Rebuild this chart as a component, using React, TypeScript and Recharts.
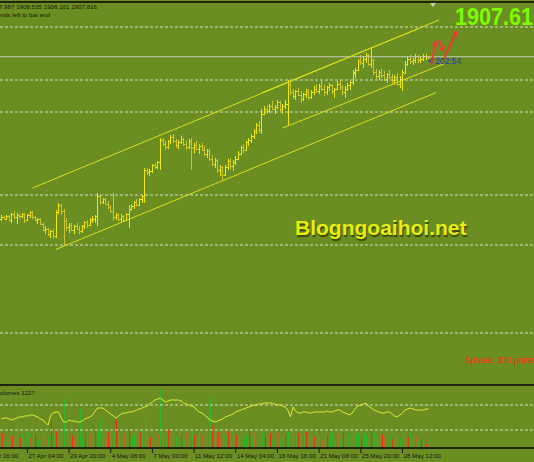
import { ComposedChart, Bar, Line, XAxis, YAxis, ReferenceLine } from 'recharts';

// XAUUSD H4, 23 Apr - 28 May
const opens = [
  1778, 1779, 1778, 1780, 1777, 1782, 1779, 1781, 1780, 1782,
  1777, 1781, 1783, 1779, 1777, 1778, 1774, 1769, 1770, 1766,
  1768, 1764, 1783, 1789, 1784, 1776, 1771, 1773, 1769, 1772,
  1770, 1768, 1772, 1775, 1773, 1777, 1778, 1780, 1796, 1791,
  1794, 1790, 1787, 1784, 1779, 1781, 1778, 1780, 1777, 1782,
  1786, 1788, 1791, 1789, 1794, 1796, 1817, 1815, 1816, 1821,
  1819, 1823, 1841, 1838, 1835, 1840, 1843, 1840, 1837, 1839,
  1842, 1838, 1835, 1840, 1835, 1837, 1834, 1836, 1833, 1830,
  1832, 1826, 1822, 1825, 1817, 1819, 1813, 1819, 1824, 1820,
  1823, 1826, 1830, 1835, 1833, 1839, 1841, 1844, 1848, 1853,
  1849, 1862, 1866, 1864, 1868, 1866, 1867, 1871, 1866, 1868,
  1870, 1886, 1879, 1876, 1880, 1877, 1874, 1878, 1880, 1875,
  1879, 1882, 1880, 1884, 1882, 1879, 1883, 1885, 1880, 1882,
  1886, 1883, 1879, 1882, 1885, 1887, 1895, 1897, 1904, 1903,
  1906, 1909, 1902, 1905, 1895, 1892, 1895, 1893, 1890, 1894,
  1891, 1889, 1891, 1886, 1890, 1895, 1902, 1906, 1904, 1905,
  1908, 1905, 1906, 1908, 1907.987,
];
const highs = [
  1781, 1780, 1781, 1781, 1783, 1784, 1783, 1782, 1783, 1783,
  1782, 1784, 1784, 1780, 1779, 1779, 1775, 1772, 1771, 1769,
  1770, 1785, 1791, 1790, 1786, 1779, 1775, 1775, 1773, 1775,
  1772, 1773, 1776, 1777, 1779, 1780, 1781, 1799, 1797, 1795,
  1795, 1792, 1789, 1799, 1783, 1783, 1782, 1781, 1783, 1789,
  1790, 1792, 1794, 1795, 1797, 1819, 1819, 1818, 1822, 1823,
  1824, 1843, 1843, 1840, 1841, 1845, 1846, 1842, 1841, 1844,
  1843, 1840, 1842, 1843, 1839, 1840, 1838, 1839, 1836, 1834,
  1834, 1829, 1827, 1826, 1821, 1820, 1821, 1826, 1827, 1825,
  1828, 1832, 1836, 1838, 1840, 1843, 1846, 1850, 1855, 1856,
  1866, 1868, 1869, 1870, 1872, 1869, 1873, 1872, 1870, 1873,
  1889, 1888, 1882, 1881, 1883, 1880, 1879, 1882, 1882, 1881,
  1884, 1886, 1886, 1888, 1885, 1884, 1887, 1886, 1883, 1888,
  1889, 1885, 1884, 1887, 1888, 1897, 1899, 1906, 1909, 1908,
  1911, 1910, 1915, 1906, 1898, 1897, 1898, 1896, 1895, 1897,
  1894, 1893, 1895, 1892, 1897, 1904, 1908, 1909, 1907, 1910,
  1909, 1908, 1910, 1910, 1908.535,
];
const lows = [
  1776, 1777, 1777, 1776, 1775, 1778, 1774, 1778, 1779, 1775,
  1776, 1779, 1778, 1776, 1774, 1773, 1768, 1766, 1764, 1763,
  1762, 1763, 1782, 1781, 1757, 1768, 1767, 1768, 1766, 1769,
  1766, 1767, 1770, 1771, 1772, 1775, 1775, 1772, 1789, 1790,
  1789, 1786, 1783, 1776, 1777, 1776, 1775, 1776, 1776, 1771,
  1784, 1786, 1788, 1788, 1791, 1791, 1813, 1812, 1815, 1818,
  1818, 1817, 1836, 1833, 1834, 1838, 1839, 1835, 1834, 1838,
  1836, 1833, 1834, 1817, 1831, 1833, 1830, 1832, 1828, 1827,
  1824, 1820, 1819, 1815, 1812, 1809, 1812, 1817, 1818, 1816,
  1821, 1825, 1829, 1831, 1832, 1836, 1839, 1842, 1846, 1847,
  1846, 1861, 1862, 1863, 1865, 1862, 1866, 1864, 1862, 1866,
  1853, 1877, 1874, 1873, 1876, 1871, 1872, 1875, 1873, 1874,
  1877, 1879, 1878, 1880, 1876, 1877, 1880, 1878, 1875, 1881,
  1881, 1877, 1875, 1880, 1881, 1885, 1891, 1896, 1901, 1899,
  1903, 1900, 1899, 1893, 1890, 1889, 1891, 1888, 1887, 1890,
  1886, 1885, 1884, 1883, 1880, 1894, 1900, 1902, 1901, 1903,
  1903, 1903, 1904, 1905, 1906.101,
];
const closes = [
  1779, 1778, 1780, 1777, 1782, 1779, 1781, 1780, 1782, 1777,
  1781, 1783, 1779, 1777, 1778, 1774, 1769, 1770, 1766, 1768,
  1764, 1783, 1789, 1784, 1776, 1771, 1773, 1769, 1772, 1770,
  1768, 1772, 1775, 1773, 1777, 1778, 1780, 1796, 1791, 1794,
  1790, 1787, 1784, 1779, 1781, 1778, 1780, 1777, 1782, 1786,
  1788, 1791, 1789, 1794, 1796, 1817, 1815, 1816, 1821, 1819,
  1823, 1841, 1838, 1835, 1840, 1843, 1840, 1837, 1839, 1842,
  1838, 1835, 1840, 1835, 1837, 1834, 1836, 1833, 1830, 1832,
  1826, 1822, 1825, 1817, 1819, 1813, 1819, 1824, 1820, 1823,
  1826, 1830, 1835, 1833, 1839, 1841, 1844, 1848, 1853, 1849,
  1862, 1866, 1864, 1868, 1866, 1867, 1871, 1866, 1868, 1870,
  1886, 1879, 1876, 1880, 1877, 1874, 1878, 1880, 1875, 1879,
  1882, 1880, 1884, 1882, 1879, 1883, 1885, 1880, 1882, 1886,
  1883, 1879, 1882, 1885, 1887, 1895, 1897, 1904, 1903, 1906,
  1909, 1902, 1905, 1895, 1892, 1895, 1893, 1890, 1894, 1891,
  1889, 1891, 1886, 1890, 1895, 1902, 1906, 1904, 1905, 1908,
  1905, 1906, 1908, 1908, 1907.616,
];
const volumes = [
  7500, 3500, 2500, 5000, 6000, 4500, 16500, 5500, 7000, 3500,
  8000, 5000, 15000, 6500, 4000, 5500, 7500, 4500, 6000, 14000,
  7000, 8500, 5500, 9000, 24500, 8000, 5000, 6500, 4000, 7500,
  19500, 5500, 8000, 4500, 7000, 6000, 8500, 9000, 14000, 6500,
  5000, 8000, 5500, 8500, 14000, 6000, 4500, 7500, 8500, 8000,
  5500, 7000, 4000, 8000, 9000, 17500, 7000, 5500, 8500, 5000,
  7500, 29000, 8000, 6000, 9000, 7000, 8500, 5500, 8000, 6500,
  4500, 8000, 6000, 8500, 7000, 5000, 8000, 6500, 8500, 5500,
  25500, 11500, 7000, 8000, 5000, 7500, 6000, 8500, 4500, 9000,
  6500, 5500, 8000, 5000, 7000, 8000, 6000, 7500, 4000, 6500,
  8500, 5500, 7000, 7500, 4500, 6000, 8000, 5000, 7000, 5500,
  8000, 10500, 8500, 6000, 7500, 5000, 6500, 8000, 4500, 7000,
  5500, 8000, 6000, 4000, 7500, 6500, 5000, 8000, 5500, 7000,
  4500, 8000, 6000, 7500, 5000, 8500, 9000, 7000, 5500, 8000,
  6500, 7500, 8500, 8000, 6000, 5000, 7000, 5500, 9000, 6500,
  4500, 7500, 6000, 5000, 8500, 7000, 5500, 7500, 4500, 5500,
  3500, 4500, 3000, 2000, 1227,
];
const volumeAvg = [
  14500, 15000, 15000, 14500, 14000, 14500, 15000, 15500, 15500, 16000,
  16000, 16500, 16500, 16000, 15500, 14500, 14000, 12500, 11500, 16500,
  17500, 18000, 18000, 15000, 13000, 13000, 14000, 13500, 13500, 13000,
  13000, 13500, 14500, 15000, 15500, 16500, 18500, 20000, 20000, 20000,
  19000, 18000, 17000, 16000, 15000, 16000, 17000, 17500, 17500, 18000,
  18000, 18500, 19000, 19500, 20000, 20500, 21000, 22000, 23000, 24000,
  24500, 25000, 24000, 23000, 23500, 24000, 24000, 24000, 24000, 23500,
  22500, 22000, 21500, 21000, 20500, 19000, 18000, 17500, 16500, 15500,
  14000, 13500, 13000, 13500, 14000, 14500, 15500, 16000, 16500, 17000,
  18000, 18500, 19000, 19500, 20000, 20500, 21000, 21500, 21500, 22000,
  22000, 22500, 22500, 22500, 22500, 22000, 21500, 21500, 21000, 20500,
  19000, 15500, 20500, 18500, 17500, 17500, 18000, 18000, 17500, 17500,
  18000, 18000, 18000, 18000, 18000, 18500, 18000, 18000, 18500, 19000,
  19000, 18000, 17500, 17000, 16500, 18000, 20000, 21000, 21500, 22000,
  22500, 21000, 20000, 19000, 18500, 18000, 17500, 17500, 18000, 18000,
  17000, 16000, 15500, 16500, 17500, 19000, 19500, 20000, 19500, 19000,
  19000, 19000, 19000, 19500, 19500,
];
// g = up volume, r = down volume, b = neutral
const volumeKinds = (
  'rgbgrggrgg' + 'gbgrgggbgr' + 'grgbgggrbg' + 'ggrgbgrggg' + 'brggrggbgr' +
  'ggbrgggrgg' + 'bgggrgbggr' + 'gbggrggbgg' + 'grgrbggrgg' + 'rgbggrgbgg' +
  'grgrggbggr' + 'ggbgrggrbg' + 'rggbgrgggb' + 'grggbgggrg' + 'gbrgggrbgg' +
  'rgbgggrggb' + 'grgrg'
).split('');

const tickBars = [0, 10, 26, 42, 58, 74, 90, 106, 122, 138, 154];
const tickLabels = [
  '23 Apr 16:00', '27 Apr 04:00', '29 Apr 20:00', '4 May 08:00', '7 May 00:00',
  '11 May 12:00', '14 May 04:00', '18 May 16:00', '21 May 08:00', '25 May 20:00', '28 May 12:00',
];

const levels = [1931.4, 1889, 1863.4, 1797, 1757, 1686.6];
const bid = 1907.616;

const trendLines = [
  { x1: 12, y1: 1802.6, x2: 168, y2: 1937 },
  { x1: 100, y1: 1878.8, x2: 160, y2: 1930 },
  { x1: 108, y1: 1850.6, x2: 170, y2: 1902 },
  { x1: 21, y1: 1753.5, x2: 167, y2: 1879 },
];
const arrows = [
  { x1: 165, y1: 1901, x2: 167, y2: 1921 },
  { x1: 168, y1: 1921, x2: 170, y2: 1911 },
  { x1: 170, y1: 1906, x2: 175, y2: 1929 },
];

const SLOTS = 205; // bars plus empty space on the right

const rows: any[] = [];
for (let i = 0; i < SLOTS; i++) {
  if (i < closes.length) {
    rows.push({
      i,
      range: [lows[i], highs[i]],
      o: opens[i], h: highs[i], l: lows[i], c: closes[i],
      vol: volumes[i], volAvg: volumeAvg[i], kind: volumeKinds[i],
    });
  } else {
    rows.push({ i });
  }
}

const BG = '#6B8E23';
const DARK = '#1E2612';
const BAR_UP = '#F0E800';
const BAR_DN = '#CEC430';
const TREND = '#D8E018';
const GRID = '#D4D8C4';
const ARROW = '#F03A3A';
const VOL_COLORS: Record<string, string> = { g: '#2CB82C', r: '#F5281C', b: '#BE6A30' };
const FONT = '"Liberation Sans", Arial, sans-serif';

function OhlcBar(props: any) {
  const { x, y, width, height, payload } = props;
  if (!payload || payload.h == null) return null;
  const top = Math.min(y, y + height);
  const span = Math.max(Math.abs(height), 1);
  const px = Math.round(x + width / 2);
  const toY = (v: number) => Math.round(top + ((payload.h - v) / (payload.h - payload.l)) * span);
  const col = payload.c >= payload.o ? BAR_UP : BAR_DN;
  return (
    <g fill={col} shapeRendering="crispEdges">
      <rect x={px} y={top} width={1} height={span} />
      <rect x={px - 1} y={toY(payload.o)} width={1} height={1} />
      <rect x={px + 1} y={toY(payload.c)} width={1} height={1} />
    </g>
  );
}

function VolumeBar(props: any) {
  const { x, y, width, height, payload } = props;
  if (!payload || payload.vol == null) return null;
  const top = Math.min(y, y + height);
  const px = Math.round(x + width / 2);
  return (
    <rect x={px} y={top} width={1} height={Math.abs(height)}
      fill={VOL_COLORS[payload.kind]} shapeRendering="crispEdges" />
  );
}

function ArrowShape(props: any) {
  const { x1, y1, x2, y2 } = props;
  if ([x1, y1, x2, y2].some((v) => v == null || isNaN(v))) return null;
  const ang = Math.atan2(y2 - y1, x2 - x1);
  const len = 6;
  const half = 3.2;
  const bx = x2 - len * Math.cos(ang);
  const by = y2 - len * Math.sin(ang);
  const nx = -Math.sin(ang) * half;
  const ny = Math.cos(ang) * half;
  return (
    <g>
      <line x1={x1} y1={y1} x2={bx} y2={by} stroke={ARROW} strokeWidth={2} />
      <polygon points={`${x2},${y2} ${bx + nx},${by + ny} ${bx - nx},${by - ny}`} fill={ARROW} />
    </g>
  );
}

function DateTick(props: any) {
  const { x, y, payload } = props;
  const k = tickBars.indexOf(payload.value);
  if (k < 0) return null;
  const shift = k === 0 ? -19 : 0;
  return (
    <g>
      {k > 0 && <line x1={x} x2={x} y1={y + 1} y2={y + 5} stroke="#151515" />}
      <text x={x + shift + 1} y={y + 9.5} fontSize={6.2} fontFamily={FONT} fill="#151515" textAnchor="start">
        {tickLabels[k]}
      </text>
    </g>
  );
}

const abs = (extra: any) => ({ position: 'absolute' as const, whiteSpace: 'nowrap' as const, ...extra });

export default function App() {
  return (
    <div style={{ position: 'absolute', left: 0, top: 0, width: 534, height: 462, overflow: 'hidden', background: BG, fontFamily: FONT }}>
      <div style={{ position: 'absolute', left: 0, top: 0 }}>
        <ComposedChart width={534} height={385} data={rows} margin={{ top: 5, right: 0, bottom: 2, left: 0 }}>
          <XAxis dataKey="i" type="category" hide />
          <YAxis hide domain={[1646.6, 1949]} allowDataOverflow />
          {levels.map((lv) => (
            <ReferenceLine key={lv} y={lv} stroke={GRID} strokeDasharray="3 2" />
          ))}
          <ReferenceLine y={bid} stroke="#C4C8C0" />
          {trendLines.map((t, k) => (
            <ReferenceLine key={'t' + k} segment={[{ x: t.x1, y: t.y1 }, { x: t.x2, y: t.y2 }]} stroke={TREND} strokeWidth={1} />
          ))}
          <Bar dataKey="range" barSize={2} shape={<OhlcBar />} isAnimationActive={false} />
          {arrows.map((a, k) => (
            <ReferenceLine key={'a' + k} segment={[{ x: a.x1, y: a.y1 }, { x: a.x2, y: a.y2 }]} shape={ArrowShape} />
          ))}
        </ComposedChart>
      </div>

      <div style={{ position: 'absolute', left: 0, top: 1, width: 534, height: 2, background: DARK }} />
      <div style={{ position: 'absolute', left: 430, top: 3, width: 0, height: 0, borderLeft: '3px solid transparent', borderRight: '3px solid transparent', borderTop: '4px solid #C8CCC0' }} />
      <div style={{ position: 'absolute', left: 0, top: 384, width: 534, height: 2, background: DARK }} />

      <div style={{ position: 'absolute', left: 0, top: 386 }}>
        <ComposedChart width={534} height={76} data={rows} margin={{ top: 1, right: 0, bottom: 0, left: 0 }}>
          <XAxis dataKey="i" type="category" ticks={tickBars} interval={0} height={14}
            tickSize={0} tickMargin={0} tickLine={false} tick={<DateTick />}
            axisLine={{ stroke: DARK, strokeWidth: 2 }} />
          <YAxis hide domain={[0, 30500]} allowDataOverflow />
          <ReferenceLine y={21500} stroke={GRID} strokeDasharray="3 2" />
          <ReferenceLine y={9000} stroke={GRID} strokeDasharray="3 2" />
          <Bar dataKey="vol" barSize={1} shape={<VolumeBar />} isAnimationActive={false} />
          <Line dataKey="volAvg" type="linear" stroke="#E0EC30" strokeWidth={1} dot={false} isAnimationActive={false} />
        </ComposedChart>
      </div>

      <div style={abs({ right: 534 - 97, top: 3, fontSize: 6.2, lineHeight: '8px', color: '#151515' })}>
        XAUUSD,H4  1907.987 1908.535 1906.101 1907.616
      </div>
      <div style={abs({ right: 534 - 50, top: 10.5, fontSize: 6.2, lineHeight: '8px', color: '#151515' })}>
        202 minutes 54 seconds left to bar end
      </div>
      <div style={abs({ left: 455, top: 4.5, fontSize: 24, lineHeight: '24px', fontWeight: 700, color: '#7CFC00', transform: 'scaleX(0.9)', transformOrigin: 'left top' })}>
        1907.616
      </div>
      <div style={abs({ left: 428, top: 57, fontSize: 8.5, lineHeight: '9px', color: '#2838A8' })}>
        {'< 202:54'}
      </div>
      <div style={abs({ left: 295, top: 217, fontSize: 21, lineHeight: '21px', fontWeight: 700, color: '#E6EE0A', textShadow: '1px 2px 1px rgba(40,50,0,0.75)' })}>
        Blogngoaihoi.net
      </div>
      <div style={abs({ left: 465, top: 355, fontSize: 8.5, lineHeight: '10px', color: '#FF2A10' })}>
        Spread: 300 points
      </div>
      <div style={abs({ right: 534 - 35, top: 388.5, fontSize: 6.2, lineHeight: '8px', color: '#151515' })}>
        Volumes 1227
      </div>
    </div>
  );
}
